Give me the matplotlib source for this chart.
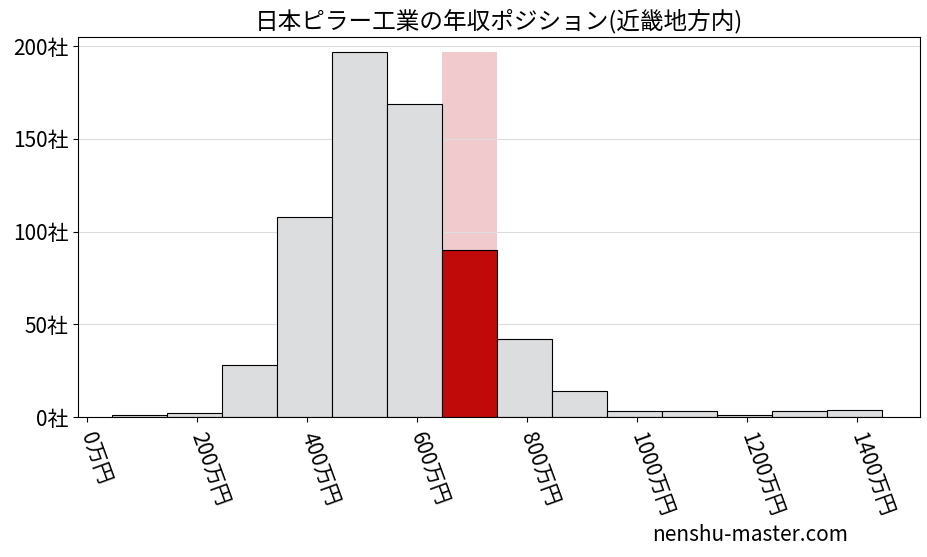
import matplotlib
matplotlib.use("Agg")
import matplotlib.pyplot as plt

plt.rcParams['font.family'] = ['Noto Sans CJK JP', 'DejaVu Sans']

bin_left = [45, 145, 245, 345, 445, 545, 645, 745, 845, 945, 1045, 1145, 1245, 1345]
counts = [1, 2, 28, 108, 197, 169, 90, 42, 14, 3, 3, 1, 3, 4]
highlight_idx = 6
highlight_bg = 197
xticks = [0, 200, 400, 600, 800, 1000, 1200, 1400]
yticks = [0, 50, 100, 150, 200]

fig = plt.figure(figsize=(9.27, 5.57), dpi=100)
ax = fig.add_axes([78/927, 1-417/557, (920-78)/927, (417-37)/557])
ax.grid(axis='y', color='#dddddd', linewidth=0.8, zorder=0)
ax.bar(bin_left[highlight_idx], highlight_bg, width=100, align='edge', color='#f0cacc', zorder=1)
colors = ['#c00a0a' if i == highlight_idx else '#dcdddf' for i in range(len(counts))]
ax.bar(bin_left, counts, width=100, align='edge', color=colors, edgecolor='black', linewidth=0.8, zorder=2)
ax.set_xlim(-16, 1515)
ax.set_ylim(0, 205)
ax.set_xticks(xticks)
ax.set_xticklabels([f"{v}万円" for v in xticks], rotation=-70, ha='left', va='center',
                   rotation_mode='anchor', fontsize=15)
ax.tick_params(axis='x', pad=8)
ax.set_yticks(yticks)
ax.set_yticklabels([f"{v}社" for v in yticks], fontsize=15)
ax.set_title("日本ピラー工業の年収ポジション(近畿地方内)", fontsize=17, pad=6)
fig.text(848/927, 0.02, "nenshu-master.com", ha='right', va='bottom', fontsize=15)
fig.savefig("out.png", dpi=100)
